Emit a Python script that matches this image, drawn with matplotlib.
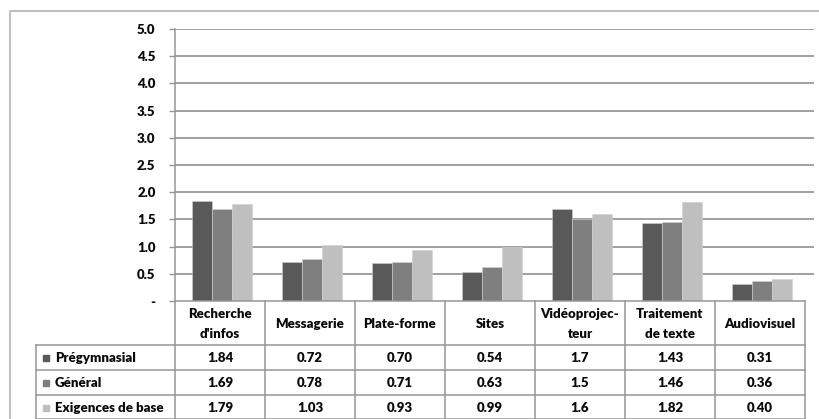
import matplotlib
matplotlib.use("Agg")
import matplotlib.pyplot as plt
from matplotlib.lines import Line2D
from matplotlib.patches import Rectangle
from matplotlib.transforms import blended_transform_factory
import numpy as np

# data
categories = ["Recherche\nd'infos", "Messagerie", "Plate-forme", "Sites",
              "Vidéoprojec-\nteur", "Traitement\nde texte", "Audiovisuel"]
series_names = ["Prégymnasial", "Général", "Exigences de base"]
pregymnasial = ["1.84", "0.72", "0.70", "0.54", "1.7", "1.43", "0.31"]
general = ["1.69", "0.78", "0.71", "0.63", "1.5", "1.46", "0.36"]
exigences = ["1.79", "1.03", "0.93", "0.99", "1.6", "1.82", "0.40"]
yticks = [0, 0.5, 1.0, 1.5, 2.0, 2.5, 3.0, 3.5, 4.0, 4.5, 5.0]

colors = ["#595959", "#7f7f7f", "#bfbfbf"]
grid_col = "#a0a0a0"
line_col = "#969696"
txt_col = "#0a0a0a"
plt.rcParams['font.family'] = ['Lato', 'DejaVu Sans']
fw = "heavy"

W, H = 819, 419
fig = plt.figure(figsize=(W / 100, H / 100), dpi=100)

def fy(px):
    return 1 - px / H

# plot area in pixels
ax_l, ax_r, ax_t, ax_b = 175, 814, 29, 301
col_w = 90.0
ax = fig.add_axes([ax_l / W, fy(ax_b), (ax_r - ax_l) / W, (ax_b - ax_t) / H])
ax.set_xlim(-0.5, -0.5 + (ax_r - ax_l) / col_w)
ax.set_ylim(0, 5)

def px2x(px):
    return (px - ax_l) / col_w - 0.5

x = np.arange(len(categories))
bw = 0.222
all_series = [pregymnasial, general, exigences]
for i, vals in enumerate(all_series):
    ax.bar(x + (i - 1) * bw + 0.02, [float(v) for v in vals], width=bw,
           color=colors[i], edgecolor="#d0d0d0", linewidth=0.4, zorder=3)

ax.set_yticks(yticks)
ax.set_yticklabels(["-"] + ["%.1f" % t for t in yticks[1:]],
                   fontsize=9.5, fontweight=fw, color=txt_col)
ax.tick_params(axis="y", length=4, width=1, color=line_col, pad=10)
ax.tick_params(axis="x", length=0, labelbottom=False)
for t in yticks[1:]:
    ax.axhline(t, color=grid_col, linewidth=1.4, zorder=1)
for s in ["top", "right", "bottom", "left"]:
    ax.spines[s].set_visible(False)

# table drawn below the axes
tr = blended_transform_factory(ax.transData, fig.transFigure)
tbl_right = len(categories) - 0.5
row_y = [345, 370, 395, 418.5]
lines = []
# y axis line running down through the table
lines.append(([-0.5, -0.5], [fy(ax_t), fy(H)]))
# base line
lines.append(([-0.5, tbl_right], [fy(ax_b), fy(ax_b)]))
for k in range(len(categories)):
    xb = k + 0.5
    lines.append(([xb, xb], [fy(ax_b), fy(H)]))
for ry in row_y:
    lines.append(([px2x(36), tbl_right], [fy(ry), fy(ry)]))
lines.append(([px2x(36), px2x(36)], [fy(row_y[0]), fy(H)]))
for xs, ys in lines:
    fig.add_artist(Line2D(xs, ys, transform=tr, color=line_col, linewidth=1.1))

for k, cat in enumerate(categories):
    fig.text(k, fy((ax_b + row_y[0]) / 2 + 1), cat, transform=tr, ha="center",
             va="center", fontsize=9.5, fontweight=fw, color=txt_col,
             linespacing=1.85)

for i, vals in enumerate(all_series):
    yc = fy((row_y[i] + row_y[i + 1]) / 2) if i < 2 else fy((row_y[2] + H + 2) / 2)
    for k, v in enumerate(vals):
        fig.text(k, yc, v, transform=tr, ha="center", va="center",
                 fontsize=9.5, fontweight=fw, color=txt_col)
    fig.add_artist(Rectangle((43 / W, yc - 3 / H), 6 / W, 6 / H,
                             transform=fig.transFigure, color=colors[i]))
    fig.text(55 / W, yc, series_names[i], ha="left", va="center",
             fontsize=9.5, fontweight=fw, color=txt_col)

# outer chart frame
fig.add_artist(Line2D([10 / W, 10 / W, 1], [0, fy(11), fy(11)],
                      transform=fig.transFigure, color="#bfbfbf", linewidth=1.4))

fig.savefig("out.png", dpi=100)
